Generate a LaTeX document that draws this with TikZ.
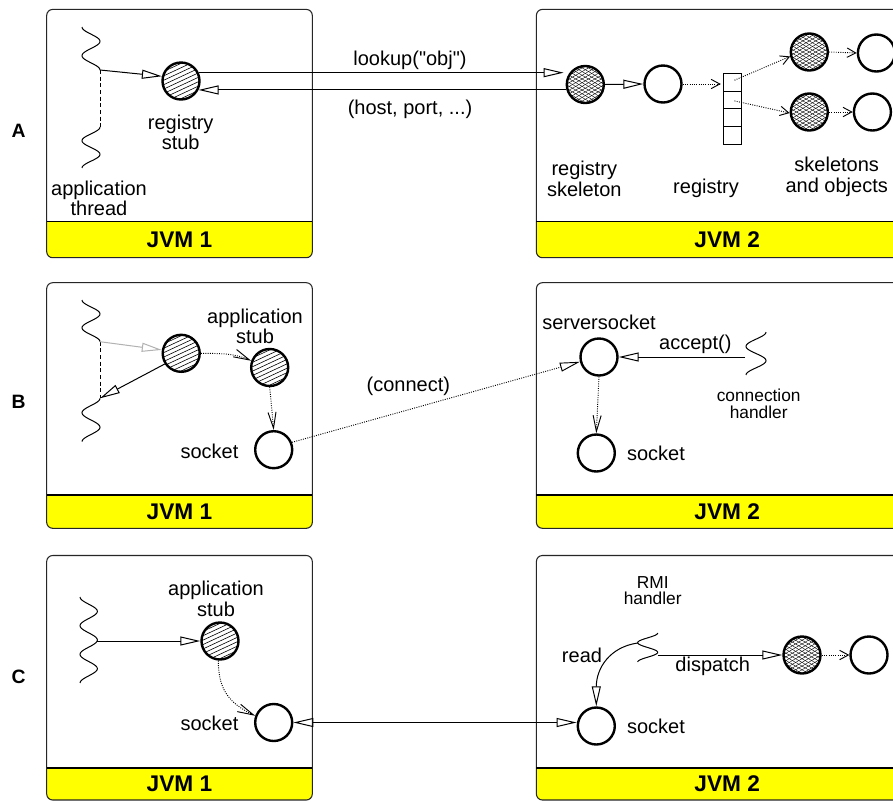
\documentclass[tikz,border=0pt]{standalone}
\usepackage{fontspec}
\setmainfont[Ligatures=TeXOff]{Liberation Sans}
\usetikzlibrary{arrows.meta,calc}
\definecolor{jvmyellow}{HTML}{FFFF00}
\tikzset{
  boxline/.style={draw=black!85,line width=0.8pt,rounded corners=4.5pt},
  sepline/.style={draw=black,line width=1pt},
  circ/.style={circle,draw=black,line width=1.8pt,minimum size=27.75pt,inner sep=0pt,fill=white},
  objnode/.style={circ},
  stubnode/.style={circ,path picture={
      \foreach \i in {-7,...,7}{
        \draw[line width=0.45pt] ($(path picture bounding box.center)+(\i*1.69-24,\i*3.62+11.2)$) -- ($(path picture bounding box.center)+(\i*1.69+24,\i*3.62-11.2)$);
      }}},
  skelnode/.style={circ,path picture={
      \foreach \i in {-9,...,9}{
        \draw[line width=0.3pt] ($(path picture bounding box.center)+(\i*1.6-22,\i*2.77+12.7)$) -- ($(path picture bounding box.center)+(\i*1.6+22,\i*2.77-12.7)$);
        \draw[line width=0.3pt] ($(path picture bounding box.center)+(-\i*1.6-22,\i*2.77-12.7)$) -- ($(path picture bounding box.center)+(-\i*1.6+22,\i*2.77+12.7)$);
      }}},
  cellnode/.style={rectangle,draw=black,line width=0.8pt,minimum width=13.8pt,minimum height=13.25pt,inner sep=0pt},
  txt/.style={font=\fontsize{15}{15.4}\selectfont,align=center,inner sep=0pt},
  smalltxt/.style={font=\fontsize{13}{12.3}\selectfont,align=center,inner sep=0pt},
  jvmlabel/.style={font=\bfseries\fontsize{17}{17}\selectfont,inner sep=0pt},
  panellabel/.style={font=\bfseries\fontsize{14.5}{14.5}\selectfont,inner sep=0pt},
  conn/.style={line width=0.75pt},
  dotl/.style={line width=0.7pt,dash pattern=on 0.7pt off 1pt},
  dashl/.style={line width=0.75pt,dash pattern=on 3pt off 2pt},
  tri/.style={-{Triangle[open,length=15pt,width=6.75pt]}},
  tritri/.style={{Triangle[open,length=15pt,width=6.75pt]}-{Triangle[open,length=15pt,width=6.75pt]}},
  vlong/.style={-{Straight Barb[length=12pt,width=6pt]}},
  vshort/.style={-{Straight Barb[length=6.5pt,width=7pt]}},
  thread/.style={line width=0.75pt},
}
\newcommand\thr[5]{\draw[thread] plot[variable=\t,domain=0:1,samples=61,smooth] ({#1+#2*cos(180*#5*\t)},{#3+(#4-#3)*\t});}
\newcommand\jvmframe[7]{%
  \begin{scope}
    \clip[rounded corners=4.5pt] (#1,#2) rectangle (#3,#4);
    \fill[white] (#1,#2) rectangle (#3,#4);
    \fill[jvmyellow] (#1,#5) rectangle (#3,#4);
  \end{scope}
  \draw[boxline] (#1,#2) rectangle (#3,#4);
  \draw[sepline] (#1,#5) -- (#3,#5);
  \node[jvmlabel] (#6) at ({(#1+#3)/2},{(#5+#4)/2}) {#7};}
\begin{document}
\begin{tikzpicture}[x=0.75pt,y=-0.75pt]
\path[use as bounding box] (0,0) rectangle (893,801);
\clip (0,0) rectangle (893,801);
\fill[white] (0,0) rectangle (893,801);

% frames
\jvmframe{46.7}{9.4}{312.3}{257.7}{221.7}{jA1}{JVM 1}
\jvmframe{536.4}{9.4}{918}{257.7}{221.7}{jA2}{JVM 2}
\jvmframe{46.7}{282.7}{312.3}{528.3}{495}{jB1}{JVM 1}
\jvmframe{536.4}{282.7}{918}{528.3}{495}{jB2}{JVM 2}
\jvmframe{46.7}{555.5}{312.3}{800}{768}{jC1}{JVM 1}
\jvmframe{536.4}{555.5}{918}{800}{768}{jC2}{JVM 2}

% panel labels
\node[panellabel] (labA) at (18.5,131) {A};
\node[panellabel] (labB) at (18.5,401.5) {B};
\node[panellabel] (labC) at (18.5,676.7) {C};

% ================= Panel A
\thr{91}{-9}{27}{70}{3}
\thr{91}{9}{127}{168}{3}
\coordinate (tA) at (100,70);
\coordinate (tA2) at (100,127);
\node[stubnode] (stubA) at (181,81) {};
\node[skelnode] (skelA) at (585.3,84.5) {};
\node[objnode] (regA) at (663,84) {};
\node[cellnode] (rc1) at (732.5,82.2) {};
\node[cellnode] (rc2) at (732.5,99.9) {};
\node[cellnode] (rc3) at (732.5,117.6) {};
\node[cellnode] (rc4) at (732.5,135.3) {};
\node[skelnode] (skA1) at (809.3,52) {};
\node[objnode] (obA1) at (876.4,53) {};
\node[skelnode] (skA2) at (809.3,112) {};
\node[objnode] (obA2) at (872.4,112) {};

\node[txt] (tRS) at (180.7,132.2) {registry\\stub};
\node[txt] (tAT) at (99,198.3) {application\\thread};
\node[txt] (tLK) at (410,60.5) {lookup("obj")};
\node[txt] (tHP) at (410,109) {(host, port, ...)};
\node[txt] (tRK) at (584.3,178.8) {registry\\skeleton};
\node[txt] (tRG) at (706,188) {registry};
\node[txt] (tSO) at (836.7,176.7) {skeletons\\and objects};

\draw[dashl] (tA) -- (tA2);
\draw[conn,tri] (tA) -- (stubA.166);
\draw[conn,tri] (stubA.25) -- ($(skelA.west |- stubA.25)+(-2,0)$);
\draw[conn,tri] (skelA.west |- stubA.-27) -- (stubA.-27);
\draw[conn,tri] (skelA.east) -- (regA.west);
\draw[dotl,vshort] (regA.east) -- ($(regA.east -| rc1.west)+(-2,0)$);
\coordinate (rp1) at ($(rc1.center)+(2,-2)$);
\coordinate (rp2) at ($(rc2.center)+(2,1)$);
\draw[dotl,vshort] (rp1) -- (skA1.193);
\draw[dotl,vshort] (rp2) -- (skA2.183);
\draw[dotl,vshort] (skA1.east) -- (obA1.west);
\draw[dotl,vshort] (skA2.east) -- (obA2.west);

% ================= Panel B
\thr{91}{-9}{300}{341.7}{3}
\thr{91}{9}{398.3}{441.7}{3}
\thr{756}{10}{332}{375}{3}
\coordinate (tB) at (100,341.7);
\coordinate (tB2) at (100,398.3);
\coordinate (chB) at (745,357);
\node[stubnode] (stB1) at (181.2,353.3) {};
\node[stubnode] (stB2) at (269.7,367.5) {};
\node[objnode] (soB1) at (273.7,449.7) {};
\node[objnode] (ssB) at (599,357) {};
\node[objnode] (soB2) at (596.3,453) {};

\node[txt] (tAS) at (255,326.3) {application\\stub};
\node[txt] (tSK1) at (209.5,451.7) {socket};
\node[txt] (tCN) at (408.3,386.7) {(connect)};
\node[txt] (tSS) at (599,322.7) {serversocket};
\node[txt] (tAC) at (695.3,344.7) {accept()};
\node[smalltxt] (tCH) at (758.7,403.7) {connection\\handler};
\node[txt] (tSK2) at (656,453.7) {socket};

\draw[dashl] (tB) -- (tB2);
\draw[conn,draw=black!30,tri] (tB) -- (stB1.170);
\draw[conn,tri] (stB1.213) -- (tB2);
\draw[dotl,vlong] (stB1.east) .. controls +(20,0) and +(-15,-7) .. (stB2.160);
\draw[dotl,vlong] (stB2.south) -- (soB1.north);
\draw[dotl,tri] (soB1.22) -- (ssB.194);
\draw[conn,tri] (chB) -- (ssB.east);
\draw[dotl,vlong] (ssB.south) -- (soB2.north);

% ================= Panel C
\thr{88.7}{-8.7}{597}{683}{6}
\thr{647.7}{10}{633}{662}{3}
\coordinate (tC) at (97.4,641);
\coordinate (rmiL) at (637.7,643);
\coordinate (rmiR) at (657.7,655);
\node[stubnode] (stC) at (220,641) {};
\node[objnode] (soC1) at (273.7,722.5) {};
\node[objnode] (soC2) at (596.3,726) {};
\node[skelnode] (skC) at (802,655) {};
\node[objnode] (obC) at (869,655) {};

\node[txt] (tAS2) at (216,598.8) {application\\stub};
\node[txt] (tSK3) at (209.5,723.3) {socket};
\node[smalltxt] (tRMI) at (652.7,590.8) {RMI\\handler};
\node[txt] (tRD) at (582,655) {read};
\node[txt] (tDP) at (712.7,666.7) {dispatch};
\node[txt] (tSK4) at (656,726.7) {socket};

\draw[conn,tri] (tC) -- (stC.west);
\draw[dotl,vlong] (stC.-95) .. controls +(0,30) and +(-25,-12) .. (soC1.160);
\draw[conn,tritri] (soC1.east) -- (soC2.west |- soC1.east);
\draw[conn,tri] (rmiL) .. controls +(-28,4) and +(0,-38) .. (soC2.north);
\draw[conn,tri] (rmiR) -- (skC.west);
\draw[dotl,vshort] (skC.east) -- (obC.west);
\end{tikzpicture}
\end{document}
